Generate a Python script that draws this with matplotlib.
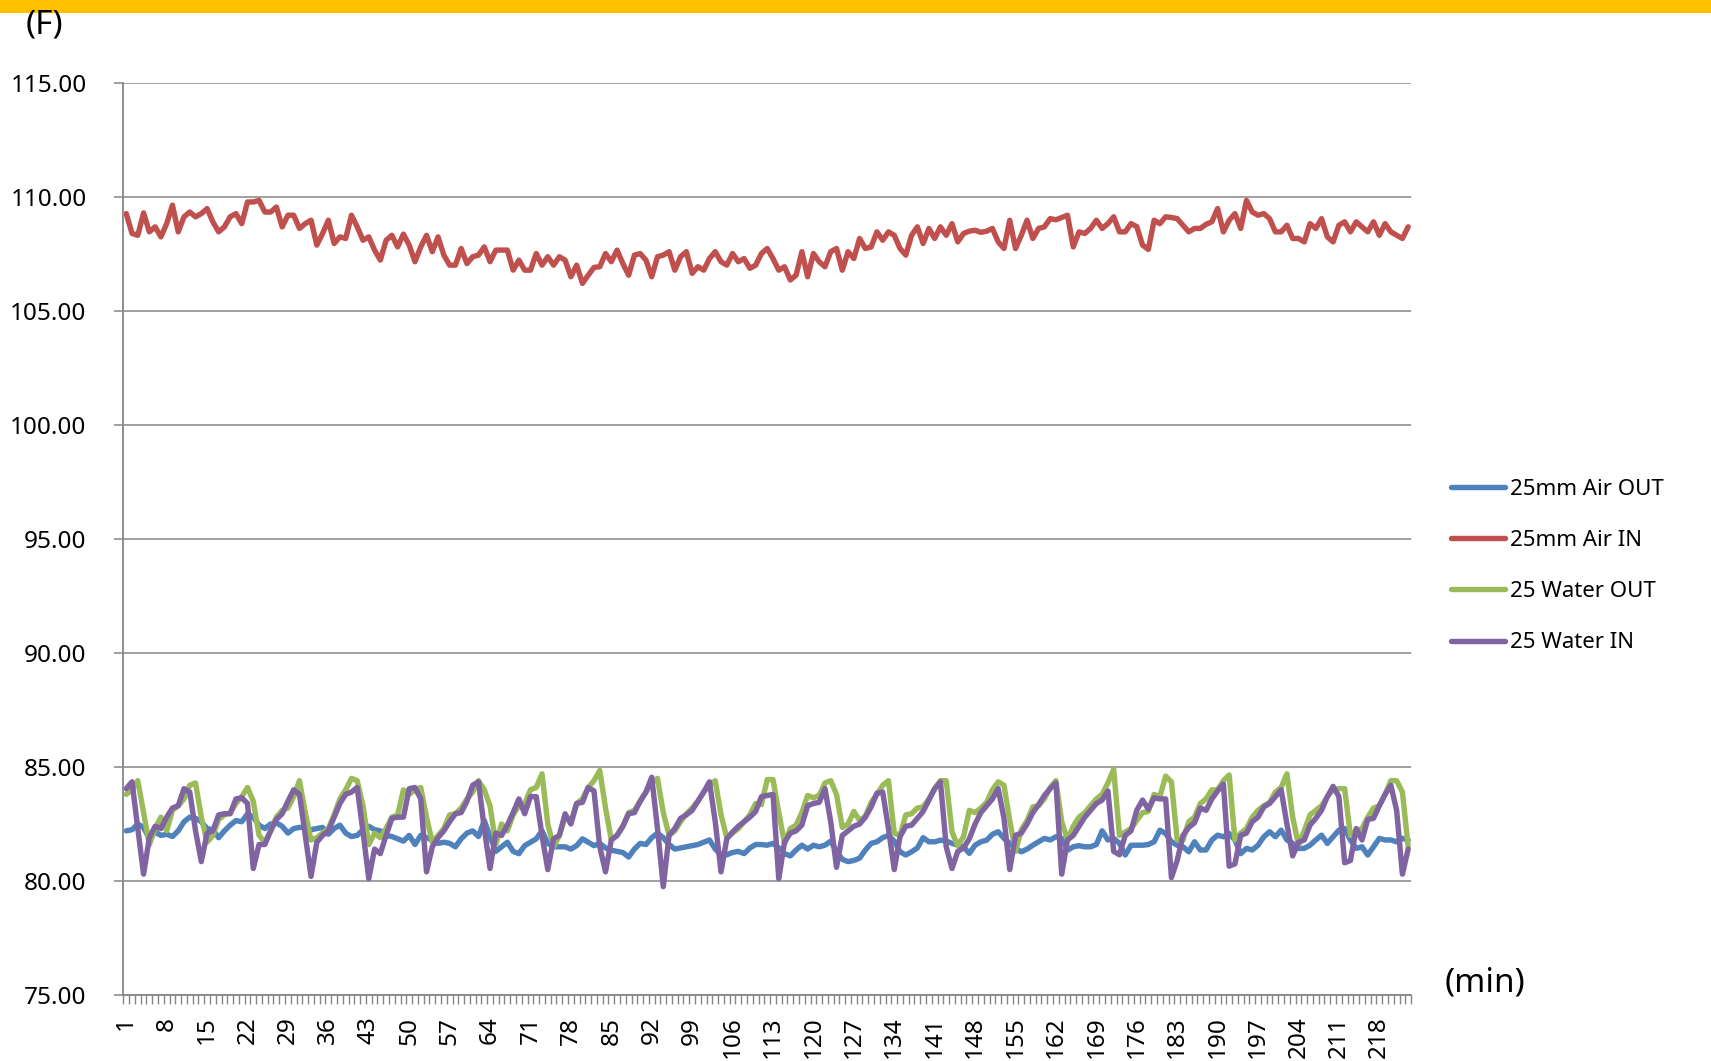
import numpy as np
import matplotlib
matplotlib.use('Agg')
import matplotlib.pyplot as plt
from matplotlib.patches import Rectangle
from matplotlib.ticker import FormatStrFormatter

plt.rcParams['font.family'] = ['Noto Sans', 'DejaVu Sans']

# 25mm Air OUT (blue)
air_out = [
    82.2, 82.25, 82.5, 82.35, 81.85, 82.15, 82.0, 82.05, 81.95, 82.2,
    82.6, 82.8, 82.75, 82.6, 82.3, 82.25, 81.9, 82.2, 82.45, 82.65,
    82.6, 82.95, 82.8, 82.45, 82.3, 82.5, 82.55, 82.4, 82.1, 82.3,
    82.35, 82.35, 82.25, 82.3, 82.35, 82.05, 82.3, 82.45, 82.1, 81.95,
    82.0, 82.25, 82.4, 82.25, 82.2, 82.0, 81.95, 81.85, 81.75, 82.0,
    81.6, 82.0, 81.9, 81.8, 81.65, 81.7, 81.65, 81.5, 81.85, 82.1,
    82.2, 81.95, 82.65, 81.95, 81.3, 81.5, 81.7, 81.3, 81.2, 81.55,
    81.7, 81.85, 82.2, 81.65, 81.5, 81.5, 81.5, 81.4, 81.55, 81.85,
    81.7, 81.55, 81.65, 81.45, 81.35, 81.3, 81.25, 81.05, 81.4, 81.65,
    81.6, 81.9, 82.1, 81.9, 81.6, 81.4, 81.45, 81.5, 81.55, 81.6,
    81.7, 81.8, 81.4, 81.15, 81.15, 81.25, 81.3, 81.2, 81.45, 81.6,
    81.6, 81.57, 81.65, 81.45, 81.2, 81.1, 81.36, 81.57, 81.4, 81.57,
    81.5, 81.57, 81.75, 81.3, 80.95, 80.85, 80.9, 81.0, 81.36, 81.65,
    81.72, 81.9, 82.0, 81.75, 81.28, 81.14, 81.28, 81.45, 81.9, 81.72,
    81.72, 81.79, 81.75, 81.65, 81.57, 81.5, 81.21, 81.57, 81.72, 81.79,
    82.05, 82.16, 81.87, 81.65, 81.43, 81.28, 81.4, 81.57, 81.72, 81.87,
    81.8, 81.94, 81.87, 81.35, 81.5, 81.55, 81.5, 81.5, 81.6, 82.2,
    81.8, 81.87, 81.65, 81.14, 81.57, 81.57, 81.57, 81.6, 81.72, 82.23,
    82.08, 81.72, 81.57, 81.5, 81.28, 81.72, 81.36, 81.36, 81.8, 82.01,
    81.94, 82.08, 81.8, 81.2, 81.43, 81.36, 81.57, 81.94, 82.16, 81.94,
    82.23, 81.8, 81.65, 81.43, 81.43, 81.57, 81.8, 82.01, 81.65, 81.94,
    82.23, 82.3, 81.8, 81.43, 81.5, 81.14, 81.5, 81.87, 81.8, 81.8,
    81.72, 81.87, 81.8,
]

# 25mm Air IN (red)
air_in = [
    109.27, 108.4, 108.32, 109.3, 108.47, 108.69, 108.25, 108.83, 109.64, 108.47,
    109.13, 109.34, 109.13, 109.27, 109.49, 108.91, 108.47, 108.69, 109.13, 109.27,
    108.83, 109.78, 109.78, 109.85, 109.34, 109.34, 109.56, 108.69, 109.2, 109.2,
    108.62, 108.83, 108.98, 107.89, 108.4, 108.98, 107.96, 108.25, 108.18, 109.2,
    108.69, 108.1, 108.25, 107.67, 107.23, 108.1, 108.32, 107.81, 108.37, 107.89,
    107.16, 107.81, 108.32, 107.6, 108.25, 107.45, 107.01, 107.01, 107.74, 107.08,
    107.38, 107.45, 107.81, 107.16, 107.67, 107.67, 107.67, 106.79, 107.23, 106.79,
    106.79, 107.52, 107.01, 107.38, 107.01, 107.38, 107.23, 106.5, 107.01, 106.21,
    106.57, 106.91, 106.94, 107.52, 107.16, 107.67, 107.08, 106.57, 107.45, 107.52,
    107.23, 106.5, 107.38, 107.45, 107.6, 106.79, 107.38, 107.6, 106.65, 106.94,
    106.79, 107.3, 107.6, 107.16, 107.01, 107.52, 107.16, 107.3, 106.87, 107.01,
    107.52, 107.74, 107.3, 106.79, 106.94, 106.36, 106.57, 107.6, 106.5, 107.52,
    107.16, 106.94, 107.6, 107.74, 106.79, 107.6, 107.3, 108.18, 107.74, 107.81,
    108.47, 108.1, 108.47, 108.32, 107.74, 107.45, 108.32, 108.69, 107.96, 108.62,
    108.18, 108.69, 108.32, 108.83, 108.03, 108.4, 108.5, 108.54, 108.45, 108.5,
    108.62, 108.03, 107.74, 108.98, 107.74, 108.32, 108.98, 108.18, 108.62, 108.69,
    109.05, 109.0, 109.1, 109.2, 107.81, 108.47, 108.4, 108.62, 108.98, 108.62,
    108.83, 109.13, 108.47, 108.47, 108.83, 108.7, 107.89, 107.7, 108.98, 108.83,
    109.13, 109.1, 109.05, 108.76, 108.47, 108.62, 108.62, 108.8, 108.91, 109.49,
    108.47, 108.98, 109.27, 108.62, 109.85, 109.34, 109.2, 109.27, 109.05, 108.47,
    108.47, 108.76, 108.18, 108.18, 108.03, 108.83, 108.62, 109.05, 108.25, 108.03,
    108.76, 108.91, 108.47, 108.91, 108.69, 108.47, 108.91, 108.32, 108.83, 108.47,
    108.32, 108.18, 108.69,
]

# 25 Water OUT (green)
water_out = [
    83.8, 84.0, 84.4, 83.0, 81.6, 82.3, 82.8, 82.2, 83.1, 83.3,
    83.6, 84.2, 84.3, 82.8, 81.7, 82.0, 82.7, 82.9, 83.0, 83.4,
    83.7, 84.1, 83.5, 82.0, 81.7, 82.2, 82.8, 83.1, 83.2, 83.7,
    84.4, 83.0, 81.8, 81.9, 82.1, 82.3, 82.9, 83.6, 84.0, 84.5,
    84.4, 83.3, 81.6, 82.1, 81.9, 82.3, 82.8, 82.9, 84.0, 83.8,
    84.0, 84.1, 82.8, 81.7, 82.0, 82.3, 82.9, 82.95, 83.2, 83.6,
    83.9, 84.4, 84.0, 83.3, 81.6, 82.5, 82.2, 82.9, 83.3, 83.4,
    84.0, 84.1, 84.7, 82.5, 81.5, 82.0, 82.8, 82.6, 83.4, 83.6,
    84.1, 84.4, 84.85, 83.2, 81.8, 82.0, 82.4, 83.0, 83.1, 83.5,
    83.9, 84.3, 84.5, 83.0, 82.0, 82.2, 82.6, 82.95, 83.2, 83.5,
    83.9, 84.2, 84.4, 82.9, 81.9, 82.1, 82.3, 82.6, 82.9, 83.4,
    83.35, 84.45, 84.45, 83.0, 81.65, 82.3, 82.45, 83.0, 83.75, 83.65,
    83.75, 84.3, 84.4, 83.8, 82.35, 82.5, 83.05, 82.65, 82.85, 83.45,
    83.8, 84.2, 84.4, 82.1, 82.0, 82.9, 82.95, 83.2, 83.25, 83.6,
    84.05, 84.4, 84.4, 82.15, 81.55, 81.95, 83.1, 83.0, 83.2, 83.45,
    84.0, 84.35, 84.2, 82.65, 81.3, 82.25, 82.65, 83.25, 83.3, 83.6,
    84.1, 84.4, 82.6, 81.8, 82.4, 82.8, 83.0, 83.3, 83.6, 83.8,
    84.3, 84.9, 82.0, 82.15, 82.3, 82.65, 83.0, 83.05, 83.8, 83.7,
    84.6, 84.35, 81.8, 81.8, 82.6, 82.8, 83.4, 83.6, 84.0, 84.0,
    84.4, 84.65, 81.8, 82.1, 82.3, 82.8, 83.1, 83.3, 83.45, 83.9,
    84.1, 84.7, 82.8, 81.6, 82.2, 82.9, 83.1, 83.3, 83.7, 84.0,
    84.05, 84.05, 82.0, 82.2, 82.3, 82.8, 83.2, 83.3, 83.8, 84.4,
    84.4, 83.9, 81.5,
]

# 25 Water IN (purple)
water_in = [
    84.05, 84.35, 82.3, 80.3, 81.9, 82.4, 82.3, 82.8, 83.2, 83.3,
    84.05, 83.9, 82.2, 80.85, 82.1, 82.2, 82.9, 82.95, 82.95, 83.6,
    83.65, 83.4, 80.55, 81.6, 81.6, 82.2, 82.7, 82.95, 83.5, 84.0,
    83.8, 82.0, 80.2, 81.7, 82.0, 82.2, 82.8, 83.4, 83.8, 83.9,
    84.1, 82.15, 80.1, 81.4, 81.2, 82.0, 82.75, 82.8, 82.8, 84.05,
    84.1, 83.6, 80.4, 81.5, 81.9, 82.2, 82.6, 82.95, 83.0, 83.5,
    84.2, 84.35, 82.3, 80.55, 82.1, 82.0, 82.45, 83.0, 83.6, 82.95,
    83.7, 83.7, 82.0, 80.5, 81.85, 82.0, 82.95, 82.5, 83.4, 83.45,
    84.1, 83.95, 81.5, 80.4, 81.8, 82.0, 82.4, 82.95, 83.0, 83.5,
    83.9, 84.55, 82.3, 79.75, 82.0, 82.3, 82.75, 82.9, 83.1, 83.5,
    83.9, 84.35, 82.6, 80.4, 81.85, 82.15, 82.4, 82.6, 82.8, 83.05,
    83.7, 83.75, 83.8, 80.1, 81.7, 82.1, 82.2, 82.45, 83.3, 83.4,
    83.45, 84.05, 82.6, 80.6, 82.0, 82.2, 82.4, 82.5, 82.8, 83.25,
    83.85, 83.9, 82.3, 80.5, 81.95, 82.4, 82.45, 82.75, 83.05, 83.55,
    84.05, 84.35, 81.5, 80.55, 81.3, 81.45, 81.85, 82.5, 83.0, 83.3,
    83.6, 84.05, 82.75, 80.5, 82.0, 82.1, 82.5, 83.0, 83.35, 83.75,
    84.05, 84.3, 80.3, 81.8, 82.0, 82.4, 82.8, 83.1, 83.4, 83.55,
    83.95, 81.3, 81.15, 82.0, 82.2, 83.1, 83.55, 83.15, 83.65, 83.6,
    83.6, 80.15, 80.9, 82.0, 82.35, 82.55, 83.2, 83.1, 83.6, 83.95,
    84.25, 80.65, 80.75, 82.0, 82.1, 82.6, 82.8, 83.25, 83.4, 83.7,
    84.0, 82.5, 81.1, 81.7, 81.8, 82.45, 82.75, 83.1, 83.7, 84.15,
    83.7, 80.8, 80.9, 82.3, 81.8, 82.7, 82.75, 83.3, 83.8, 84.2,
    83.1, 80.3, 81.4,
]

series_names = ['25mm Air OUT', '25mm Air IN', '25 Water OUT', '25 Water IN']
series_colors = ['#4F81BD', '#C0504D', '#9BBB59', '#8064A2']
y_ticks = [75, 80, 85, 90, 95, 100, 105, 110, 115]
x_labels = list(range(1, 224, 7))
n_points = 223

grid_gray = '#868686'

fig = plt.figure(figsize=(17.11, 10.61), dpi=100)
ax = fig.add_axes([0.0721, 0.0622, 0.7526, 0.8596])

for vals, name, col in zip([air_out, air_in, water_out, water_in], series_names, series_colors):
    xs = np.arange(1, len(vals) + 1)
    ax.plot(xs, vals, color=col, lw=3.9, label=name,
            solid_joinstyle='round', solid_capstyle='round')

ax.set_xlim(0.5, n_points + 0.5)
ax.set_ylim(75, 115)

# y axis
ax.set_yticks(y_ticks)
ax.yaxis.set_major_formatter(FormatStrFormatter('%.2f'))
ax.tick_params(axis='y', length=6.5, width=1.1, color=grid_gray, pad=20, labelsize=17.5)
ax.grid(axis='y', color=grid_gray, lw=1.1)
ax.set_axisbelow(True)

# x axis: labels every 7 min, small ticks between every category
ax.set_xticks(x_labels)
ax.set_xticklabels([str(v) for v in x_labels], rotation=90, va='top', ha='center')
ax.set_xticks(np.arange(0.5, n_points + 1, 1), minor=True)
ax.tick_params(axis='x', which='major', length=0, pad=15.5, labelsize=17.5)
ax.tick_params(axis='x', which='minor', length=6.5, width=1.0, color=grid_gray)

for side in ['top', 'right']:
    ax.spines[side].set_visible(False)
for side in ['left', 'bottom']:
    ax.spines[side].set_color(grid_gray)
    ax.spines[side].set_linewidth(1.3)

ax.legend(loc='center left', bbox_to_anchor=(1451 / 1711, 1 - 566 / 1061),
          bbox_transform=fig.transFigure, frameon=False, fontsize=16,
          handlelength=2.45, handletextpad=0.2, labelspacing=1.36,
          borderpad=0, borderaxespad=0)

# yellow bar at the top
fig.add_artist(Rectangle((0, 1 - 13 / 1061), 1, 13 / 1061, transform=fig.transFigure,
                         color='#FFC000', lw=0))

fig.text(26 / 1711, 1 - 25 / 1061, '(F)', fontsize=24, va='center', ha='left')
fig.text(1445 / 1711, 1 - 983 / 1061, '(min)', fontsize=24, va='center', ha='left')

fig.savefig('out.png', dpi=100)
